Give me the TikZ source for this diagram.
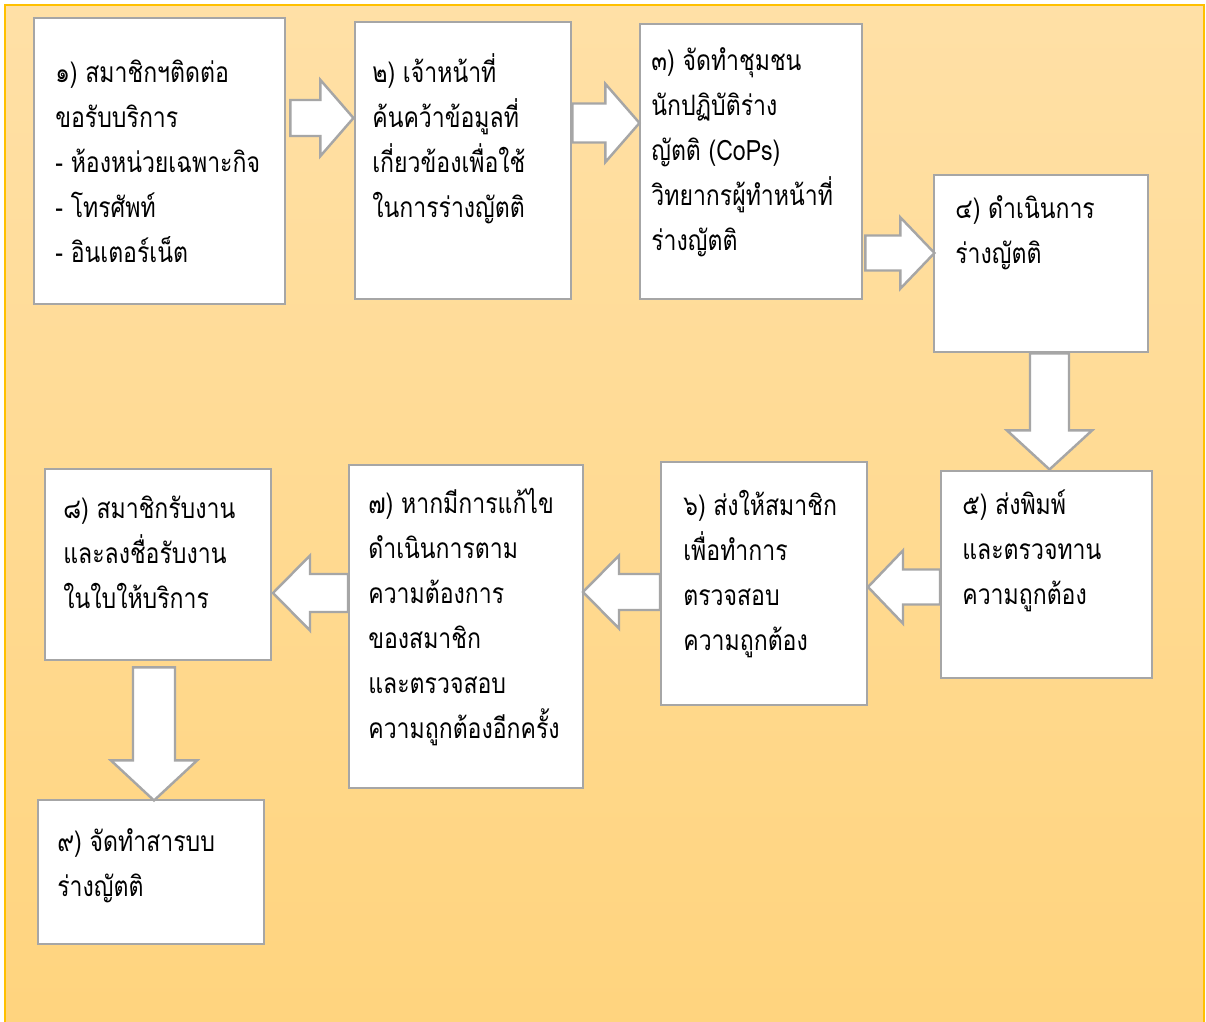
\documentclass[tikz,border=0pt]{standalone}
\usepackage{fontspec}
\newfontfamily\thaifont[Script=Thai, FakeStretch=0.82]{Loma}
\usetikzlibrary{positioning,calc}

\definecolor{framegold}{HTML}{FFC000}
\definecolor{bgtop}{HTML}{FFE0A6}
\definecolor{bgbottom}{HTML}{FFD47E}
\definecolor{edgegray}{HTML}{A6A6A6}

\tikzset{
  stepbox/.style={draw=edgegray, fill=white, line width=1.4pt, anchor=north west, inner sep=0pt},
  % text nodes are placed at the baseline of their last line
  steptext/.style={anchor=base west, align=left, inner sep=0pt,
    font=\thaifont\fontsize{16}{25.5}\selectfont},
  pics/blockarrow/.style n args={4}{code={
    \draw[draw=edgegray, fill=white, line width=1.4pt, line join=miter]
      (0,-#2) -- (#1-#4,-#2) -- (#1-#4,-#3) -- (#1,0) -- (#1-#4,#3) -- (#1-#4,#2) -- (0,#2) -- cycle;
  }}
}

\begin{document}
\begin{tikzpicture}[x=0.02cm, y=-0.02cm]
  \useasboundingbox (0,0) rectangle (1206,1021);

  % background panel
  \shade[top color=bgtop, bottom color=bgbottom] (5,5) rectangle (1204,1030);
  \draw[framegold, line width=1.2pt] (5,1030) -- (5,5) -- (1204,5) -- (1204,1030);

  % boxes
  \node[stepbox, minimum width=251*0.02cm, minimum height=286*0.02cm] (b1) at (33,17) {};
  \node[stepbox, minimum width=216*0.02cm, minimum height=277*0.02cm] (b2) at (354,21) {};
  \node[stepbox, minimum width=222*0.02cm, minimum height=275*0.02cm] (b3) at (639,23) {};
  \node[stepbox, minimum width=214*0.02cm, minimum height=177*0.02cm] (b4) at (933,174) {};
  \node[stepbox, minimum width=211*0.02cm, minimum height=207*0.02cm] (b5) at (940,470) {};
  \node[stepbox, minimum width=206*0.02cm, minimum height=243*0.02cm] (b6) at (660,461) {};
  \node[stepbox, minimum width=234*0.02cm, minimum height=323*0.02cm] (b7) at (348,464) {};
  \node[stepbox, minimum width=226*0.02cm, minimum height=191*0.02cm] (b8) at (44,468) {};
  \node[stepbox, minimum width=226*0.02cm, minimum height=144*0.02cm] (b9) at (37,799) {};

  % texts
  \node[steptext] (t1) at ($(b1.north west)+(22,245)$)
    {๑) สมาชิกฯติดต่อ\\ขอรับบริการ\\- ห้องหน่วยเฉพาะกิจ\\- โทรศัพท์\\- อินเตอร์เน็ต};
  \node[steptext] (t2) at ($(b2.north west)+(18,196)$)
    {๒) เจ้าหน้าที่\\ค้นคว้าข้อมูลที่\\เกี่ยวข้องเพื่อใช้\\ในการร่างญัตติ};
  \node[steptext] (t3) at ($(b3.north west)+(12,227)$)
    {๓) จัดทำชุมชน\\นักปฏิบัติร่าง\\ญัตติ (CoPs)\\วิทยากรผู้ทำหน้าที่\\ร่างญัตติ};
  \node[steptext] (t4) at ($(b4.north west)+(22,89)$)
    {๔) ดำเนินการ\\ร่างญัตติ};
  \node[steptext] (t5) at ($(b5.north west)+(22,134)$)
    {๕) ส่งพิมพ์\\และตรวจทาน\\ความถูกต้อง};
  \node[steptext] (t6) at ($(b6.north west)+(23,189)$)
    {๖) ส่งให้สมาชิก\\เพื่อทำการ\\ตรวจสอบ\\ความถูกต้อง};
  \node[steptext] (t7) at ($(b7.north west)+(20,274)$)
    {๗) หากมีการแก้ไข\\ดำเนินการตาม\\ความต้องการ\\ของสมาชิก\\และตรวจสอบ\\ความถูกต้องอีกครั้ง};
  \node[steptext] (t8) at ($(b8.north west)+(19,140)$)
    {๘) สมาชิกรับงาน\\และลงชื่อรับงาน\\ในใบให้บริการ};
  \node[steptext] (t9) at ($(b9.north west)+(20,97)$)
    {๙) จัดทำสารบบ\\ร่างญัตติ};

  % block arrows
  \pic at ($(b1.east |- 0,118)+(4,0)$) {blockarrow={63}{18}{38}{33}};
  \pic at ($(b2.east |- 0,123)$) {blockarrow={67}{19.5}{39}{34}};
  \pic at ($(b3.east |- 0,253)+(2,0)$) {blockarrow={69}{17.5}{35.5}{34}};
  \pic[rotate=-90] at ($(b4.south -| 1049.5,0)$) {blockarrow={116}{19.5}{42.5}{39}};
  \pic[rotate=180] at ($(b5.west |- 0,587)$) {blockarrow={72}{17.5}{36.5}{35}};
  \pic[rotate=180] at ($(b6.west |- 0,592)$) {blockarrow={77}{18}{36.5}{36}};
  \pic[rotate=180] at ($(b7.west |- 0,593)$) {blockarrow={75}{19}{37.5}{37}};
  \pic[rotate=-90] at ($(b8.south -| 154,0)+(0,6)$) {blockarrow={133}{21}{43}{40}};
\end{tikzpicture}
\end{document}
